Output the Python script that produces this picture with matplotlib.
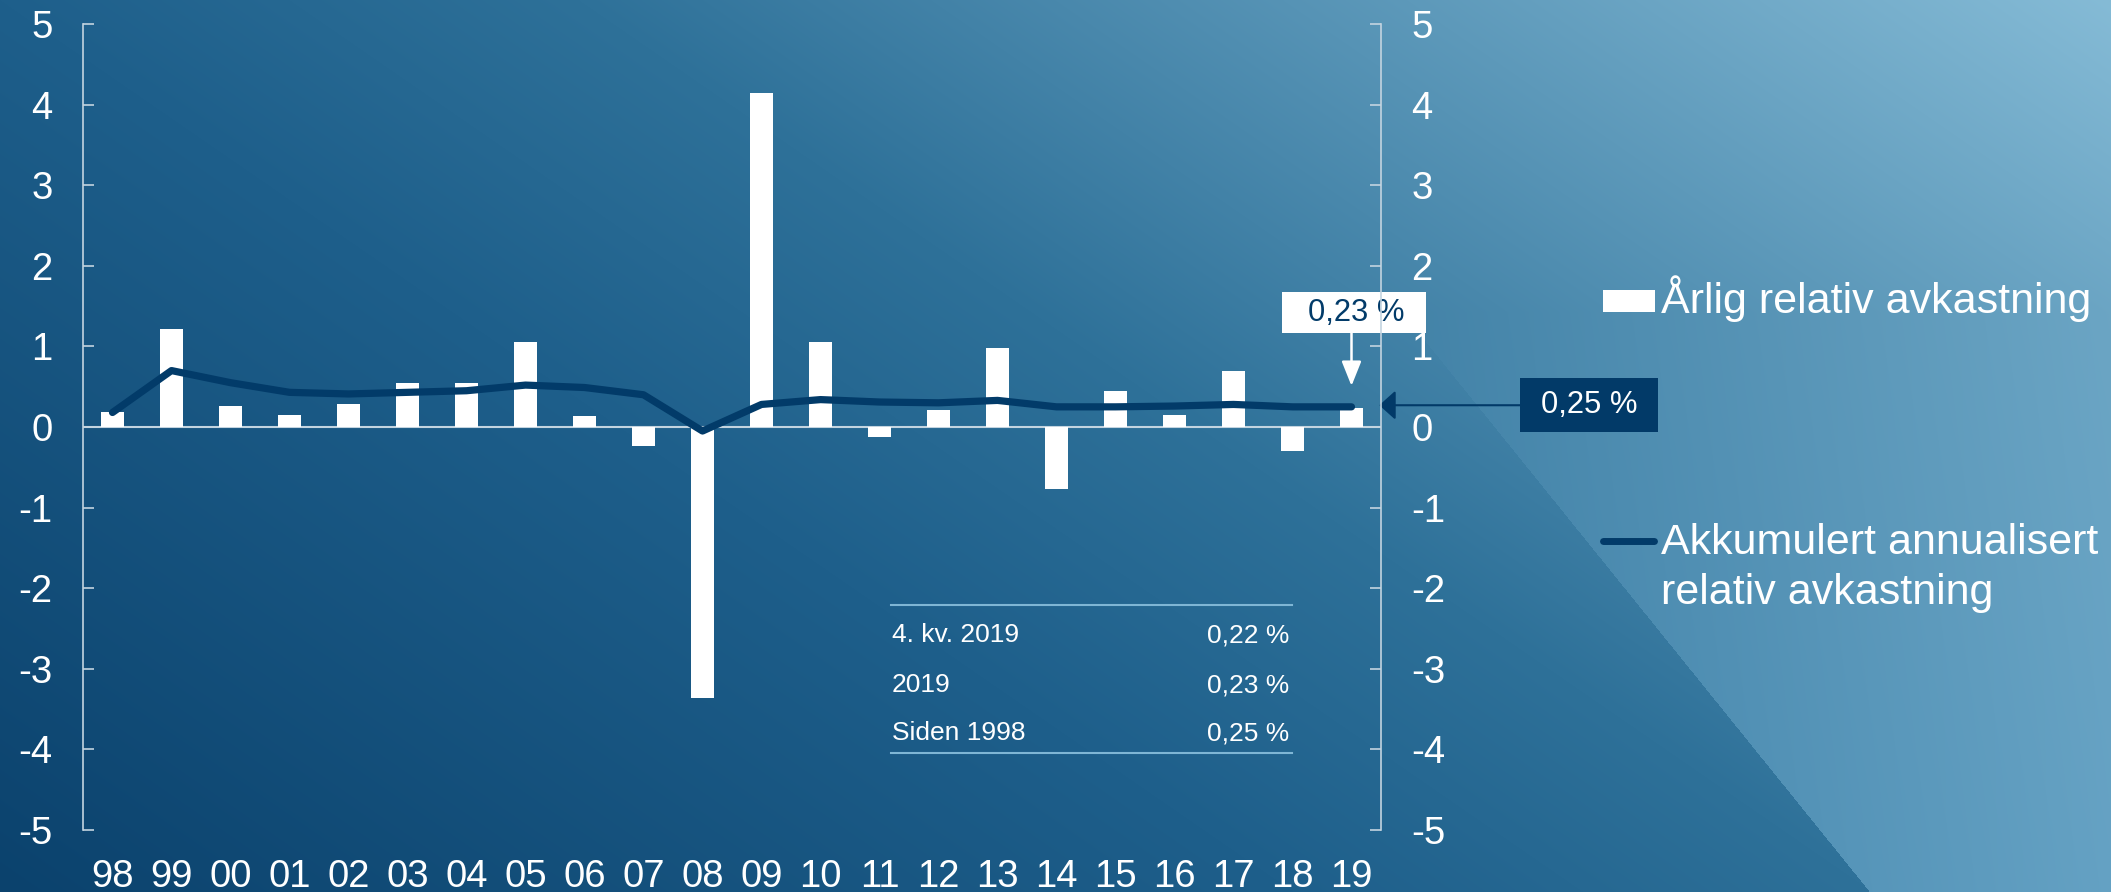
import numpy as np
import matplotlib.pyplot as plt
from matplotlib.patches import Rectangle
from matplotlib.lines import Line2D

plt.rcParams['font.family'] = ['Liberation Sans', 'DejaVu Sans']
plt.rcParams['axes.unicode_minus'] = False

# data
years = ['98', '99', '00', '01', '02', '03', '04', '05', '06', '07', '08',
         '09', '10', '11', '12', '13', '14', '15', '16', '17', '18', '19']
annual = [0.18, 1.22, 0.26, 0.15, 0.29, 0.55, 0.54, 1.06, 0.14, -0.24, -3.36,
          4.15, 1.05, -0.13, 0.21, 0.98, -0.77, 0.45, 0.15, 0.70, -0.30, 0.23]
cumulative = [0.18, 0.70, 0.55, 0.43, 0.41, 0.43, 0.45, 0.52, 0.49, 0.40, -0.05,
              0.28, 0.34, 0.31, 0.30, 0.33, 0.25, 0.25, 0.26, 0.28, 0.25, 0.25]
table_labels = ['4. kv. 2019', '2019', 'Siden 1998']
table_values = ['0,22 %', '0,23 %', '0,25 %']
label_bar = 'Årlig relativ avkastning'
label_line = ['Akkumulert annualisert', 'relativ avkastning']

NAVY = '#023b69'
AXCOL = '#c3d4e0'
W, H = 2111, 892
TICK_FS = 27.5

fig = plt.figure(figsize=(W / 100, H / 100), dpi=100)

# background: diagonal gradient with a lighter wedge on the lower right
yy, xx = np.mgrid[0:H, 0:W] + 0.5
u = xx / W
v = 1 - yy / H
s = 0.62 * u + 0.38 * v
stops = [0, 0.38, 0.55, 1.0]
cols = np.array([[11, 66, 109], [30, 95, 139], [46, 113, 153], [133, 187, 214]], float)
img = np.stack([np.interp(s, stops, cols[:, k]) for k in range(3)], axis=-1)
wedge = xx > 1150 + 0.807 * yy
fade = np.clip((0.65 - v) / 0.65, 0, 1)
img += (wedge * fade)[..., None] * np.array([41, 37, 33])
img = np.clip(img / 255, 0, 1)
bg = fig.add_axes([0, 0, 1, 1], zorder=-10)
bg.imshow(img, aspect='auto', extent=[0, W, H, 0])
bg.axis('off')

# main axes
ax = fig.add_axes([83 / W, 1 - 830 / H, 1298 / W, 806 / H])
ax.patch.set_alpha(0)
x = np.arange(len(years))
ax.bar(x, annual, width=0.4, color='white', zorder=2)
ax.plot(x, cumulative, color=NAVY, lw=5.2, solid_capstyle='round',
        solid_joinstyle='round', zorder=3)
ax.axhline(0, color=AXCOL, lw=1.5, zorder=1)

ax.set_xlim(-0.5, len(years) - 0.5)
ax.set_ylim(-5, 5)
ax.set_yticks(range(-5, 6))
ax.set_xticks(x)
ax.set_xticklabels(years)
for sp in ['top', 'bottom', 'right']:
    ax.spines[sp].set_visible(False)
ax.spines['left'].set_color(AXCOL)
ax.spines['left'].set_linewidth(1.2)
ax.tick_params(axis='y', direction='in', length=8, width=1.2, color=AXCOL,
               labelsize=TICK_FS, labelcolor='white', pad=22)
ax.tick_params(axis='x', length=0, labelsize=TICK_FS, labelcolor='white', pad=21)

ax2 = ax.twinx()
ax2.set_ylim(-5, 5)
ax2.set_yticks(range(-5, 6))
for sp in ['top', 'bottom', 'left']:
    ax2.spines[sp].set_visible(False)
ax2.spines['right'].set_color(AXCOL)
ax2.spines['right'].set_linewidth(1.2)
ax2.tick_params(axis='y', direction='in', length=8, width=1.2, color=AXCOL,
                labelsize=TICK_FS, labelcolor='white', pad=22)

# callout for last year's bar
last = len(years) - 1
ax.add_patch(Rectangle((last - 1.18, annual[-1] + 0.94), 2.44, 0.51,
                       facecolor='white', edgecolor='none', clip_on=False, zorder=5))
ax.text(last + 0.08, annual[-1] + 1.19, table_values[1], color=NAVY, fontsize=22.3,
        ha='center', va='center', zorder=6)
ax.annotate('', xy=(last, annual[-1] + 0.28), xytext=(last, annual[-1] + 0.94),
            arrowprops=dict(arrowstyle='-|>,head_length=1.5,head_width=0.6',
                            mutation_scale=10, color='white', lw=1.8,
                            shrinkA=0, shrinkB=0), zorder=5)

# callout for accumulated value
ax.add_patch(Rectangle((23.86, cumulative[-1] - 0.31), 2.34, 0.67,
                       facecolor='#023a68', edgecolor='none', clip_on=False, zorder=5))
ax.text(25.03, cumulative[-1] + 0.02, table_values[2], color='white', fontsize=22.3,
        ha='center', va='center', zorder=6)
ax.annotate('', xy=(21.47, cumulative[-1] + 0.02), xytext=(23.86, cumulative[-1] + 0.02),
            arrowprops=dict(arrowstyle='-|>,head_length=1.0,head_width=0.9',
                            mutation_scale=10, color='#023a68', lw=1.5,
                            shrinkA=0, shrinkB=0), annotation_clip=False, zorder=5)

# small summary table
for yl in [605, 753]:
    fig.add_artist(Line2D([891 / W, 1292 / W], [1 - yl / H, 1 - yl / H],
                          color='#7fb6d5', lw=1.5))
for i, (lab, val) in enumerate(zip(table_labels, table_values)):
    yb = 1 - [642, 692, 740][i] / H
    fig.text(892 / W, yb, lab, color='white', fontsize=19, va='baseline', ha='left')
    fig.text(1289 / W, yb, val, color='white', fontsize=19, va='baseline', ha='right')

# legend drawn by hand to match layout
fig.add_artist(Rectangle((1603 / W, 1 - 312 / H), 52 / W, 22 / H,
                         facecolor='white', edgecolor='none', transform=fig.transFigure))
fig.text(1661 / W, 1 - 313 / H, label_bar, color='white', fontsize=31, va='baseline')
fig.add_artist(Line2D([1603 / W, 1654 / W], [1 - 540.5 / H, 1 - 540.5 / H],
                      color=NAVY, lw=5, solid_capstyle='round'))
fig.text(1661 / W, 1 - 554 / H, label_line[0], color='white', fontsize=31, va='baseline')
fig.text(1661 / W, 1 - 604 / H, label_line[1], color='white', fontsize=31, va='baseline')

fig.savefig('out.png', dpi=100)
